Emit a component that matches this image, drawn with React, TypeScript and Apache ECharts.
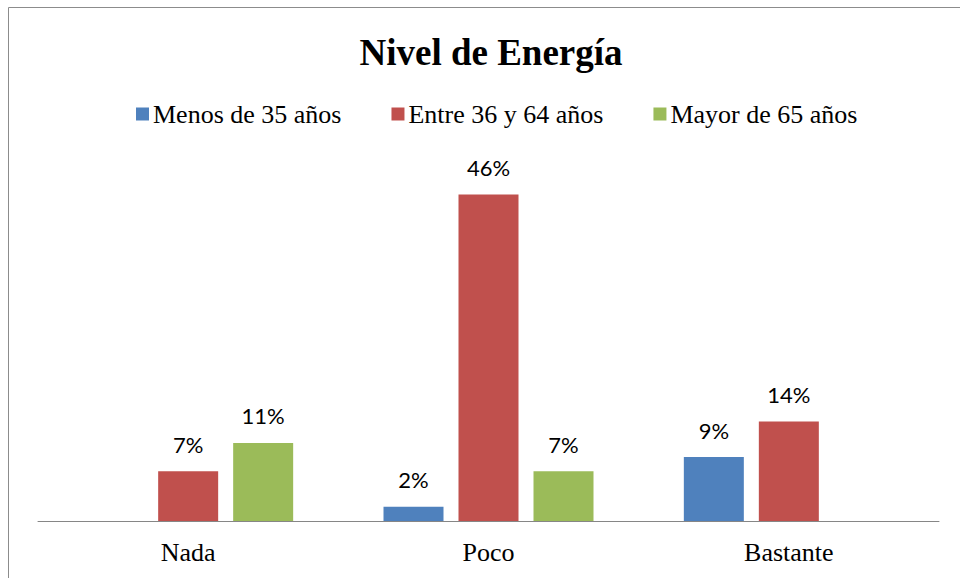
import React, { useEffect, useRef } from "react";
import * as echarts from "echarts";

const categories = ["Nada", "Poco", "Bastante"];
const seriesNames = ["Menos de 35 años", "Entre 36 y 64 años", "Mayor de 65 años"];
const menos35: (number | null)[] = [null, 2, 9];
const entre36y64: (number | null)[] = [7, 46, 14];
const mayor65: (number | null)[] = [11, 7, null];
const colors = ["#4F81BD", "#C0504D", "#9BBB59"];

export default function App() {
  const ref = useRef<HTMLDivElement>(null);
  useEffect(() => {
    if (!ref.current) return;
    const chart = echarts.init(ref.current, null, { renderer: "svg" });
    const datasets = [menos35, entre36y64, mayor65];
    chart.setOption({
      animation: false,
      graphic: [
        {
          type: "line",
          shape: { x1: 0.5, y1: 0.5, x2: 960, y2: 0.5 },
          style: { stroke: "#8c8c8c", lineWidth: 1 },
          silent: true,
        },
        {
          type: "line",
          shape: { x1: 0.5, y1: 0.5, x2: 0.5, y2: 600 },
          style: { stroke: "#8c8c8c", lineWidth: 1 },
          silent: true,
        },
      ],
      title: {
        text: "Nivel de Energía",
        left: 478,
        textAlign: "center",
        top: 22,
        textStyle: {
          fontFamily: "Liberation Serif",
          fontWeight: "bold",
          fontSize: 37,
          color: "#000",
        },
      },
      legend: {
        data: seriesNames,
        left: 123,
        top: 89,
        itemWidth: 13,
        itemHeight: 13,
        itemGap: 50,
        icon: "rect",
        textStyle: {
          fontFamily: "Liberation Serif",
          fontSize: 26,
          color: "#000",
          padding: [0, 0, 0, -1],
        },
      },
      grid: { left: 30, right: 21, top: 159, bottom: 57 },
      xAxis: {
        type: "category",
        data: categories,
        axisLine: { lineStyle: { color: "#868686", width: 1 } },
        axisTick: { show: false },
        axisLabel: {
          fontFamily: "Liberation Serif",
          fontSize: 26,
          color: "#000",
          margin: 18,
        },
      },
      yAxis: {
        type: "value",
        min: 0,
        max: 50,
        show: false,
        splitLine: { show: false },
      },
      series: datasets.map((d, i) => ({
        name: seriesNames[i],
        type: "bar",
        data: d,
        barWidth: 60,
        barGap: "25%",
        itemStyle: { color: colors[i] },
        label: {
          show: true,
          position: "top",
          distance: 16,
          formatter: "{c}%",
          fontFamily: "Lato",
          fontSize: 22,
          color: "#000",
        },
      })),
    });
    return () => chart.dispose();
  }, []);
  return (
    <div
      ref={ref}
      style={{ width: 952, height: 571, position: "absolute", left: 8, top: 7 }}
    />
  );
}
